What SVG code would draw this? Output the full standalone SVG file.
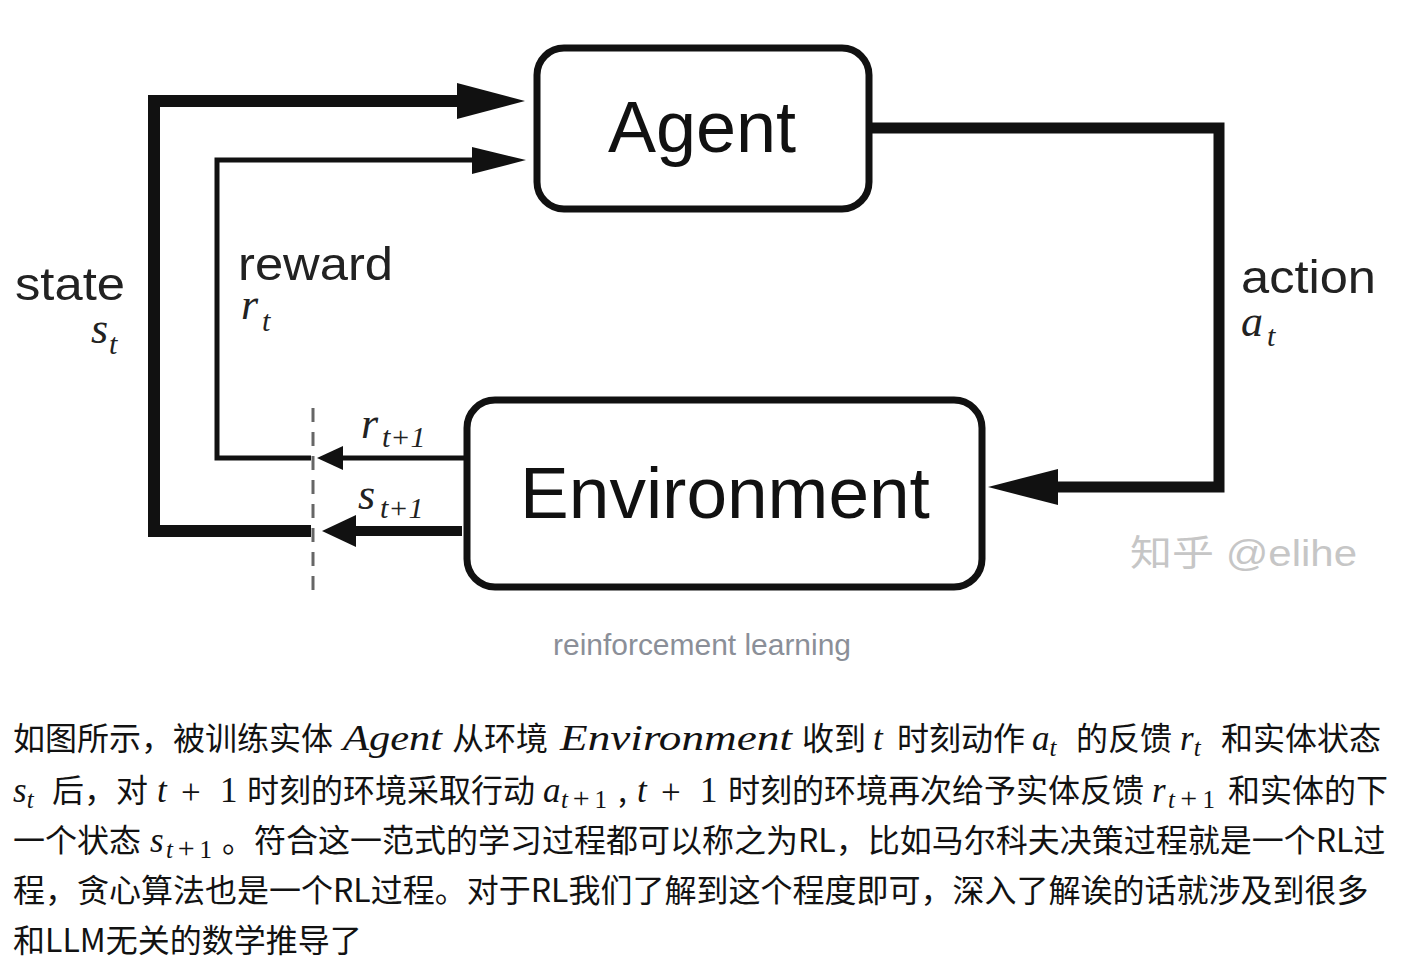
<svg xmlns="http://www.w3.org/2000/svg" width="1414" height="964" viewBox="0 0 1414 964">
<style>
.box{fill:#fff;stroke:#111;stroke-width:7}
.title{font-family:"Liberation Sans",Arial,sans-serif;fill:#111;text-anchor:middle}
.lbl{font-family:"Liberation Sans",Arial,sans-serif;font-size:46px;fill:#222}
.var{font-family:"Liberation Serif","Times New Roman",serif;font-style:italic}
.ln{fill:none;stroke:#111;stroke-linejoin:miter;stroke-linecap:butt}
.ah{fill:#111}
.dash{stroke:#666;stroke-width:3;stroke-dasharray:14 10;fill:none}
.cap{font-family:"Liberation Sans",Arial,sans-serif;font-size:29px;fill:#8b8f98}
.wm{font-family:"Liberation Sans","Noto Sans CJK SC",sans-serif;font-size:36px;fill:#c6c6c6}
.p{font-family:"Noto Sans CJK SC","Noto Sans",sans-serif;font-size:32px;fill:#121212}
.m{font-family:"Liberation Serif","Times New Roman",serif;font-style:italic;font-size:35px;fill:#121212}
.mu{font-family:"Liberation Serif","Times New Roman",serif;font-size:35px;fill:#121212}
.ms{font-family:"Liberation Serif","Times New Roman",serif;font-size:25px;fill:#121212}
.pl{font-size:30px}
</style>
<rect width="1414" height="964" fill="#fff"/>

<g id="connectors">
  <polyline class="ln" stroke-width="12" points="311,531 154,531 154,101 462,101"/>
  <polygon class="ah" points="457,83 525,101 457,119"/>
  <polyline class="ln" stroke-width="5" points="311,458 217,458 217,160 476,160"/>
  <polygon class="ah" points="472,147 526,160 472,174"/>
  <polyline class="ln" stroke-width="11" points="869,128 1219,128 1219,487 1054,487"/>
  <polygon class="ah" points="1058,469 988,487 1058,505"/>
  <line class="ln" stroke-width="5" x1="466" y1="458" x2="340" y2="458"/>
  <polygon class="ah" points="343,446 317,458 343,470"/>
  <line class="ln" stroke-width="10" x1="462" y1="531" x2="350" y2="531"/>
  <polygon class="ah" points="356,515 322,531 356,547"/>
  <line class="dash" x1="313" y1="408" x2="313" y2="590"/>
</g>

<g id="agent">
  <rect class="box" x="537" y="48" width="332" height="161" rx="27" ry="27"/>
  <text class="title" x="702" y="152" font-size="72">Agent</text>
</g>

<g id="environment">
  <rect class="box" x="467" y="400" width="515" height="187" rx="28" ry="28"/>
  <text class="title" x="725" y="518" font-size="73">Environment</text>
</g>

<g id="label-state">
  <text class="lbl"><tspan x="15" y="300" textLength="110" lengthAdjust="spacingAndGlyphs">state</tspan><tspan class="var" x="91" y="343" font-size="44">s</tspan><tspan class="var" x="109" y="354" font-size="30">t</tspan></text>
</g>
<g id="label-reward">
  <text class="lbl"><tspan x="238" y="280" textLength="155" lengthAdjust="spacingAndGlyphs">reward</tspan><tspan class="var" x="241" y="319" font-size="44">r</tspan><tspan class="var" x="262" y="331" font-size="30">t</tspan></text>
</g>
<g id="label-action">
  <text class="lbl"><tspan x="1241" y="293" textLength="135" lengthAdjust="spacingAndGlyphs">action</tspan><tspan class="var" x="1241" y="336" font-size="44">a</tspan><tspan class="var" x="1267" y="346" font-size="30">t</tspan></text>
</g>
<g id="label-r-next">
  <text class="lbl"><tspan class="var" x="361" y="438" font-size="44">r</tspan><tspan class="var" x="382" y="447" font-size="30">t+1</tspan></text>
</g>
<g id="label-s-next">
  <text class="lbl"><tspan class="var" x="358" y="509" font-size="44">s</tspan><tspan class="var" x="380" y="518" font-size="30">t+1</tspan></text>
</g>

<text class="wm" x="1130" y="566" textLength="227" lengthAdjust="spacingAndGlyphs">知乎 @elihe</text>

<text class="cap" x="553" y="655" textLength="298" lengthAdjust="spacingAndGlyphs">reinforcement learning</text>

<g id="paragraph">
  <text class="p" x="13" y="750">如图所示，被训练实体</text>
  <text class="m" x="343" y="750" textLength="99" lengthAdjust="spacingAndGlyphs">Agent</text>
  <text class="p" x="452" y="750">从环境</text>
  <text class="m" x="560" y="750" textLength="232" lengthAdjust="spacingAndGlyphs">Environment</text>
  <text class="p" x="802" y="750">收到</text>
  <text class="m" x="873" y="750">t</text>
  <text class="p" x="897" y="750">时刻动作</text>
  <text class="m" x="1032" y="750">a<tspan font-size="25px" dy="6">t</tspan></text>
  <text class="p" x="1076" y="750">的反馈</text>
  <text class="m" x="1180" y="750">r<tspan font-size="25px" dy="6">t</tspan></text>
  <text class="p" x="1221" y="750">和实体状态</text>

  <text class="m" x="13" y="802">s<tspan font-size="25px" dy="6">t</tspan></text>
  <text class="p" x="52" y="802">后，对</text>
  <text class="m" x="157" y="802">t</text>
  <text class="mu" x="181" y="804" font-size="42px">+</text>
  <text class="mu" x="220" y="802">1</text>
  <text class="p" x="247" y="802">时刻的环境采取行动</text>
  <text class="m" x="543" y="802">a</text>
  <text class="ms" x="561" y="808" textLength="46" lengthAdjust="spacing"><tspan font-style="italic">t</tspan><tspan class="pl">+</tspan>1</text>
  <text class="p" x="618" y="802">,</text>
  <text class="m" x="637" y="802">t</text>
  <text class="mu" x="661" y="804" font-size="42px">+</text>
  <text class="mu" x="700" y="802">1</text>
  <text class="p" x="728" y="802">时刻的环境再次给予实体反馈</text>
  <text class="m" x="1152" y="802">r</text>
  <text class="ms" x="1168" y="808" textLength="47" lengthAdjust="spacing"><tspan font-style="italic">t</tspan><tspan class="pl">+</tspan>1</text>
  <text class="p" x="1228" y="802">和实体的下</text>

  <text class="p" x="13" y="852">一个状态</text>
  <text class="m" x="150" y="852">s</text>
  <text class="ms" x="166" y="858" textLength="46" lengthAdjust="spacing"><tspan font-style="italic">t</tspan><tspan class="pl">+</tspan>1</text>
  <text class="p" x="222" y="852">。符合这一范式的学习过程都可以称之为RL，比如马尔科夫决策过程就是一个RL过</text>

  <text class="p" x="13" y="902">程，贪心算法也是一个RL过程。对于RL我们了解到这个程度即可，深入了解诶的话就涉及到很多</text>

  <text class="p" x="13" y="952">和LLM无关的数学推导了</text>
</g>
</svg>
